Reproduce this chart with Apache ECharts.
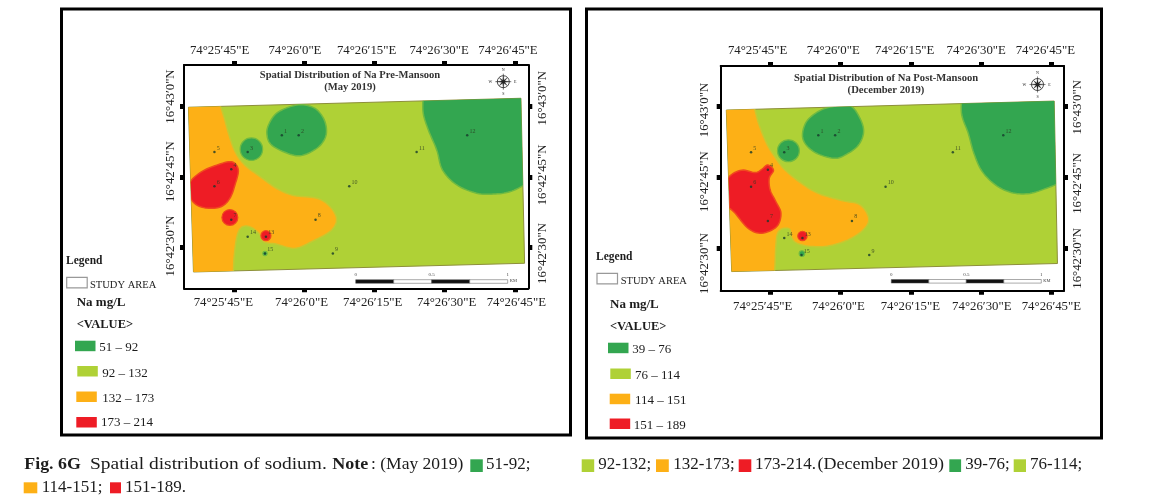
<!DOCTYPE html>
<html>
<head>
<meta charset="utf-8">
<style>html,body{margin:0;padding:0;background:#fff}#main{width:1149px;height:503px}</style>
<script src="https://cdn.jsdelivr.net/npm/echarts@6/dist/echarts.min.js"></script>
</head>
<body>
<div id="main"></div>
<script>
// axis values are seconds of arc past 74°25' (lon) and 16°42' (lat)
var lonTicks = [45, 60, 75, 90, 105];
var latTicks = [30, 45, 60];
var lonTickLabels = ['74°25′45"E', '74°26′0"E', '74°26′15"E', '74°26′30"E', '74°26′45"E'];
var latTickLabels = ['16°42′30"N', '16°42′45"N', '16°43′0"N'];

// sampling wells, same in both campaigns
var wellIds = ['1', '2', '3', '4', '5', '6', '7', '8', '9', '10', '11', '12', '13', '14', '15'];
var wellLon = [55.2, 58.8, 47.9, 44.4, 40.8, 40.8, 44.4, 62.4, 66.1, 69.6, 84.0, 94.8, 51.8, 47.9, 51.6];
var wellLat = [53.9, 53.9, 50.3, 46.6, 50.3, 43.0, 35.8, 35.8, 28.6, 43.0, 50.3, 53.9, 32.2, 32.2, 28.6];

// May 2019 zones [lon, lat]
var studyMay = [[35.25, 59.87], [106.28, 61.79], [107.06, 26.51], [36.32, 24.65]];
var orangeMay = [[33.5, 61.1], [40, 61.2], [41.7, 60.7], [42.7, 58.2], [43.8, 54.3], [45.2, 50.4], [47.3, 47.5], [50.6, 45.0], [54.1, 42.5], [57.7, 41.0], [62.7, 40.4], [65.5, 38.6], [66.9, 35.9], [65.6, 33.4], [61.9, 31.3], [58.0, 29.7], [54.1, 30.6], [51.4, 31.1], [50.3, 32.9], [48.4, 34.3], [46.6, 34.2], [45.6, 32.2], [45.0, 27.9], [44.7, 23.7], [43.5, 23], [34.5, 23]];
var redMay = [[44.5, 48.2], [45.9, 46.5], [45.2, 43.3], [44.1, 40.4], [42.2, 38.6], [39.2, 38.3], [36.7, 39.2], [35.2, 41.5], [35.7, 44.0], [38.1, 46.1], [41.3, 47.5]];
var greenWestMay = [[54.1, 58.6], [57.0, 60.0], [59.8, 60.4], [62.6, 59.4], [64.4, 56.8], [64.6, 53.7], [62.7, 51.1], [59.1, 49.5], [55.7, 50.3], [52.8, 52.0], [52.0, 54.3], [52.5, 56.4]];
var greenEastMay = [[85.4, 62.1], [85.4, 58.6], [86.5, 55.0], [88.3, 50.7], [89.5, 46.5], [92.5, 43.3], [96.8, 41.5], [100.4, 41.3], [103.9, 41.8], [107.1, 43.3], [109.6, 45.0], [109.6, 62.9], [88, 63.5], [85.7, 63.2]];
// [lon, lat, radius in seconds]
var redSpotsMay = [[44.1, 36.3, 1.7], [51.8, 32.4, 1.07]];
var greenSpotsMay = [[48.7, 50.9, 2.4], [51.6, 28.6, 0.45]];

// December 2019 zones
var studyDec = [[35.5, 59.2], [105.7, 61.1], [106.4, 26.8], [36.65, 25.1]];
var orangeDec = [[33.8, 60.6], [39.5, 60.8], [41.2, 60.3], [42.4, 56.4], [44.1, 52.2], [46.1, 49.0], [48.1, 46.5], [51.6, 43.7], [55.2, 41.6], [60.2, 40.1], [64.1, 39.2], [66.0, 36.3], [64.8, 33.9], [61.6, 31.8], [57.3, 30.5], [53.8, 30.4], [50.6, 31.1], [49.4, 32.5], [49.1, 34.0], [47.7, 34.2], [46.5, 33.2], [46.1, 30.4], [45.9, 25.8], [45.6, 23.7], [44.5, 23], [34.5, 23]];
var redDec = [[44.4, 47.6], [45.6, 46.5], [44.7, 44.8], [44.9, 42.3], [46.1, 39.9], [47.2, 37.4], [46.3, 34.6], [43.1, 33.2], [40.2, 34.2], [37.4, 37.4], [35.4, 39.5], [35.2, 42.3], [36.1, 45.1], [38.8, 46.5], [41.7, 46.0], [43.1, 46.7]];
var greenWestDec = [[55.2, 58.9], [58.1, 59.9], [62.0, 60.1], [64.1, 57.5], [64.9, 54.6], [63.8, 51.8], [61.3, 49.9], [58.8, 49.0], [55.2, 49.9], [52.7, 51.7], [51.8, 53.9], [52.7, 56.8]];
var greenEastDec = [[85.9, 62.0], [85.9, 58.2], [87.3, 54.3], [88.5, 50.1], [90.3, 46.2], [93.4, 43.2], [96.9, 41.7], [100.5, 41.6], [104.1, 42.7], [106.6, 43.7], [109.4, 45.1], [109.4, 62.7], [88, 63.2], [86.1, 63]];
var redSpotsDec = [[51.8, 32.6, 1.0]];
var greenSpotsDec = [[48.8, 50.6, 2.35], [51.7, 28.9, 0.6]];

var legendMay = ['51 – 92', '92 – 132', '132 – 173', '173 – 214'];
var legendDec = ['39 – 76', '76 – 114', '114 – 151', '151 – 189'];

var GREEN = '#33a650', LIME = '#afd136', ORANGE = '#fdb016', RED = '#ee1c25';
var SERIF = '"Liberation Serif", serif';

// position of the hand placed tick labels of the figure, in axis units
var mapMay = {
	grid: {left: 184, top: 65, width: 344.3, height: 223.3},
	lonExtent: [34.3, 107.85], latExtent: [21.16, 68.9],
	lonTop: [41.9, 58.0, 73.3, 88.8, 103.5], lonBottom: [42.7, 59.4, 74.6, 90.4, 105.3],
	latLeft: [30.2, 46.1, 62.15], latRight: [28.6, 45.4, 61.8],
	margin: {top: 8, bottom: 8, left: 7, right: 8}
};
var mapDec = {
	grid: {left: 720.7, top: 66, width: 343.3, height: 224.7},
	lonExtent: [34.3, 107.8], latExtent: [21.06, 68.5],
	lonTop: [42.2, 58.4, 73.7, 89.0, 103.8], lonBottom: [43.3, 59.5, 74.9, 90.2, 105.1],
	latLeft: [26.8, 44.1, 59.2], latRight: [27.9, 43.7, 59.8],
	margin: {top: 9, bottom: 9, left: 10, right: 7}
};

//经度轴
function lonAxis(map, gridIndex, position, labelPos){
	return {
		type: 'value', gridIndex: gridIndex, position: position,
		min: map.lonExtent[0], max: map.lonExtent[1],
		splitLine: {show: false},
		axisLine: {show: true, onZero: false, lineStyle: {color: '#000', width: 2}},
		axisTick: {show: true, customValues: lonTicks, length: 4, lineStyle: {color: '#000', width: 5}},
		axisLabel: {
			customValues: labelPos, margin: map.margin[position],
			fontFamily: SERIF, fontSize: 12.8, color: '#222',
			formatter: function(v){ return lonTickLabels[labelPos.indexOf(v)]; }
		}
	};
}
//纬度轴
function latAxis(map, gridIndex, position, labelPos){
	return {
		type: 'value', gridIndex: gridIndex, position: position,
		min: map.latExtent[0], max: map.latExtent[1],
		splitLine: {show: false},
		axisLine: {show: true, onZero: false, lineStyle: {color: '#000', width: 2}},
		axisTick: {show: true, customValues: latTicks, length: 4, lineStyle: {color: '#000', width: 5}},
		axisLabel: {
			customValues: labelPos, margin: map.margin[position], rotate: 90,
			fontFamily: SERIF, fontSize: 12.8, color: '#222',
			formatter: function(v){ return latTickLabels[labelPos.indexOf(v)]; }
		}
	};
}

function clipOf(api, study){
	return {type: 'polygon', shape: {points: study.map(function(p){ return api.coord(p); })}};
}
//闭合曲线：把轮廓点连成圆滑的线
function roundOutline(points){
	var out = [], n = points.length, i, k, t, a, b, c, d;
	for(i = 0; i < n; i++){
		a = points[(i - 1 + n) % n]; b = points[i]; c = points[(i + 1) % n]; d = points[(i + 2) % n];
		for(k = 0; k < 8; k++){
			t = k / 8;
			out.push([0, 1].map(function(j){
				return 0.5 * (2 * b[j] + (c[j] - a[j]) * t
					+ (2 * a[j] - 5 * b[j] + 4 * c[j] - d[j]) * t * t
					+ (3 * b[j] - a[j] - 3 * c[j] + d[j]) * t * t * t);
			}));
		}
	}
	return out;
}
//平滑色块，裁剪到研究区
function zoneSeries(name, axisIndex, pts, study, fill, edge){
	return {
		type: 'custom', name: name, silent: true, animation: false,
		xAxisIndex: axisIndex, yAxisIndex: axisIndex,
		data: [pts[0]],
		renderItem: function(params, api){
			return {
				type: 'polygon',
				clipPath: clipOf(api, study),
				shape: {points: roundOutline(pts.map(function(p){ return api.coord(p); }))},
				style: {fill: fill, stroke: edge, lineWidth: 1.5}
			};
		}
	};
}
//圆形色斑
function spotSeries(name, axisIndex, spots, study, fill, edge){
	return {
		type: 'custom', name: name, silent: true, animation: false,
		xAxisIndex: axisIndex, yAxisIndex: axisIndex,
		data: spots,
		renderItem: function(params, api){
			var c = api.coord([api.value(0), api.value(1)]);
			var r = api.size([api.value(2), 0])[0];
			return {
				type: 'circle',
				clipPath: clipOf(api, study),
				shape: {cx: c[0], cy: c[1], r: r},
				style: {fill: fill, stroke: edge, lineWidth: 1.2}
			};
		}
	};
}
function wellSeries(axisIndex){
	var data = wellIds.map(function(id, i){ return {name: id, value: [wellLon[i], wellLat[i]]}; });
	return {
		type: 'scatter', silent: true, animation: false,
		xAxisIndex: axisIndex, yAxisIndex: axisIndex,
		symbolSize: 2.5, itemStyle: {color: '#173a2c'},
		data: data,
		label: {
			show: true, position: 'right', offset: [0, -4], distance: 1,
			formatter: '{b}', fontFamily: SERIF, fontSize: 6, color: '#2b3a20'
		}
	};
}
function mapSeries(axisIndex, z){
	return [
		{
			type: 'custom', silent: true, animation: false,
			xAxisIndex: axisIndex, yAxisIndex: axisIndex, data: [z.study[0]],
			renderItem: function(params, api){
				return {
					type: 'polygon',
					shape: {points: z.study.map(function(p){ return api.coord(p); })},
					style: {fill: LIME, stroke: '#8d8f3a', lineWidth: 1}
				};
			}
		},
		zoneSeries('orange', axisIndex, z.orange, z.study, ORANGE, '#c9c72f'),
		zoneSeries('red', axisIndex, z.red, z.study, RED, '#f0491f'),
		zoneSeries('greenW', axisIndex, z.west, z.study, GREEN, '#6fba42'),
		zoneSeries('greenE', axisIndex, z.east, z.study, GREEN, '#6fba42'),
		spotSeries('redSpot', axisIndex, z.redSpots, z.study, RED, '#f0491f'),
		spotSeries('greenSpot', axisIndex, z.greenSpots, z.study, GREEN, '#6fba42'),
		wellSeries(axisIndex)
	];
}

function txt(x, y, text, size, opt){
	opt = opt || {};
	return {
		type: 'text', x: x, y: y, silent: true, z: 20, scaleX: opt.stretch || 1,
		style: {
			text: text, fill: opt.fill || '#1c1c1c', textAlign: opt.align || 'left', textVerticalAlign: 'middle',
			font: (opt.bold ? 'bold ' : '') + size + 'px ' + SERIF
		}
	};
}
function box(x, y, w, h, fill, stroke, lw){
	return {
		type: 'rect', silent: true, z: 19, shape: {x: x, y: y, width: w, height: h},
		style: {fill: fill || 'none', stroke: stroke || null, lineWidth: lw || 0}
	};
}
//指北针
function compass(cx, cy){
	var pts = [], i, r;
	for(i = 0; i < 16; i++){
		r = i % 4 === 0 ? 8 : (i % 2 === 0 ? 5.5 : 1.6);
		pts.push([cx + r * Math.sin(i * Math.PI / 8), cy - r * Math.cos(i * Math.PI / 8)]);
	}
	return [
		{type: 'circle', silent: true, z: 20, shape: {cx: cx, cy: cy, r: 6}, style: {fill: '#fff', stroke: '#222', lineWidth: 0.8}},
		{type: 'polygon', silent: true, z: 21, shape: {points: pts}, style: {fill: '#222', stroke: '#222', lineWidth: 0.3}},
		txt(cx, cy - 12, 'N', 4, {align: 'center'}), txt(cx, cy + 12, 'S', 4, {align: 'center'}),
		txt(cx - 13, cy, 'W', 4, {align: 'center'}), txt(cx + 12, cy, 'E', 4, {align: 'center'})
	];
}
//比例尺
function scaleBar(x, y, w){
	var s = w / 4, out = [];
	[0, 1, 2, 3].forEach(function(i){
		out.push(box(x + i * s, y, s, 3.6, i % 2 ? '#fff' : '#111', '#555', 0.5));
	});
	out.push(txt(x, y - 5, '0', 5, {align: 'center', fill: '#444'}));
	out.push(txt(x + 2 * s, y - 5, '0.5', 5, {align: 'center', fill: '#444'}));
	out.push(txt(x + w, y - 5, '1', 5, {align: 'center', fill: '#444'}));
	out.push(txt(x + w + 2, y + 1, 'KM', 4.5, {fill: '#444'}));
	return out;
}
function legendBlock(b, labels){
	var colors = [GREEN, LIME, ORANGE, RED];
	var out = [
		txt(b.legend[0], b.legend[1], 'Legend', 11.5, {bold: true}),
		box(b.study[0], b.study[1], 20.5, 10.5, '#fff', '#999', 1.2),
		txt(b.study[2], b.study[3], 'STUDY AREA', 10.5),
		txt(b.na[0], b.na[1], 'Na mg/L', 13, {bold: true}),
		txt(b.value[0], b.value[1], '<VALUE>', 12.5, {bold: true})
	];
	labels.forEach(function(label, i){
		var s = b.rows[i];
		out.push(box(s[0], s[1], 20.5, 10.5, colors[i], null, 0));
		out.push(txt(s[2], s[3], label, 13));
	});
	return out;
}

var graphics = [
	box(61.5, 9, 509, 426, null, '#000', 3),
	box(586.5, 9, 515, 429, null, '#000', 3),
	txt(350, 75.7, 'Spatial Distribution of Na Pre-Mansoon', 10.6, {bold: true, align: 'center', fill: '#333'}),
	txt(350, 87.7, '(May 2019)', 10.6, {bold: true, align: 'center', fill: '#333'}),
	txt(886, 78.7, 'Spatial Distribution of Na Post-Mansoon', 10.6, {bold: true, align: 'center', fill: '#333'}),
	txt(886, 90.7, '(December 2019)', 10.6, {bold: true, align: 'center', fill: '#333'})
];
graphics = graphics.concat(compass(503.3, 81.7), compass(1037.5, 84.5));
graphics = graphics.concat(scaleBar(355.7, 279.7, 152), scaleBar(891.3, 279.5, 150));
graphics = graphics.concat(legendBlock({
	legend: [66, 260.7], study: [66.7, 277.3, 90, 285.3], na: [76.7, 302.7], value: [76.7, 324.3],
	rows: [[75, 340.7, 99.3, 347.7], [77.3, 366, 102.3, 373.3], [76.3, 391.5, 102.3, 398.7], [76.3, 417, 101, 423]]
}, legendMay));
graphics = graphics.concat(legendBlock({
	legend: [596, 256.7], study: [597, 273.3, 620.7, 281.7], na: [610, 304.3], value: [610, 326.3],
	rows: [[608, 342.7, 632.3, 350], [610.3, 368.5, 635, 375.7], [609.7, 393.7, 635, 400.7], [609.7, 418.5, 633.7, 425.3]]
}, legendDec));

// caption
var CAP = 17;
graphics = graphics.concat([
	txt(24.3, 465, 'Fig. 6G', CAP, {bold: true, stretch: 1.05}),
	txt(90, 465, 'Spatial distribution of sodium.', CAP, {stretch: 1.145}),
	txt(332.3, 465, 'Note', CAP, {bold: true, stretch: 1.06}),
	txt(371, 465, ': (May 2019)', CAP, {stretch: 1.03}),
	box(470.3, 459.3, 12.5, 12.7, GREEN), txt(486, 465, '51-92;', CAP),
	box(581.7, 459.3, 12.5, 12.7, LIME), txt(598.3, 465, '92-132;', CAP),
	box(656, 459.3, 12.8, 12.7, ORANGE), txt(673.3, 465, '132-173;', CAP),
	box(738.7, 459.3, 12.6, 12.7, RED), txt(755, 465, '173-214.', CAP),
	txt(817.5, 465, '(December 2019)', CAP, {stretch: 1.06}),
	box(949.3, 459.3, 11.8, 12.7, GREEN), txt(965.3, 465, '39-76;', CAP),
	box(1013.7, 459.3, 12.3, 12.7, LIME), txt(1030, 465, '76-114;', CAP),
	box(23.7, 482.3, 13.6, 11, ORANGE), txt(41.7, 488, '114-151;', CAP),
	box(110, 482.3, 11, 11, RED), txt(125, 488, '151-189.', CAP)
]);

var chart = echarts.init(document.getElementById('main'), null, {renderer: 'canvas'});
chart.setOption({
	backgroundColor: '#fff',
	animation: false,
	grid: [mapMay.grid, mapDec.grid],
	xAxis: [
		lonAxis(mapMay, 0, 'bottom', mapMay.lonBottom),
		lonAxis(mapMay, 0, 'top', mapMay.lonTop),
		lonAxis(mapDec, 1, 'bottom', mapDec.lonBottom),
		lonAxis(mapDec, 1, 'top', mapDec.lonTop)
	],
	yAxis: [
		latAxis(mapMay, 0, 'left', mapMay.latLeft),
		latAxis(mapMay, 0, 'right', mapMay.latRight),
		latAxis(mapDec, 1, 'left', mapDec.latLeft),
		latAxis(mapDec, 1, 'right', mapDec.latRight)
	],
	series: mapSeries(0, {study: studyMay, orange: orangeMay, red: redMay, west: greenWestMay, east: greenEastMay, redSpots: redSpotsMay, greenSpots: greenSpotsMay})
		.concat(mapSeries(2, {study: studyDec, orange: orangeDec, red: redDec, west: greenWestDec, east: greenEastDec, redSpots: redSpotsDec, greenSpots: greenSpotsDec})),
	graphic: {elements: graphics}
});
</script>
</body>
</html>
